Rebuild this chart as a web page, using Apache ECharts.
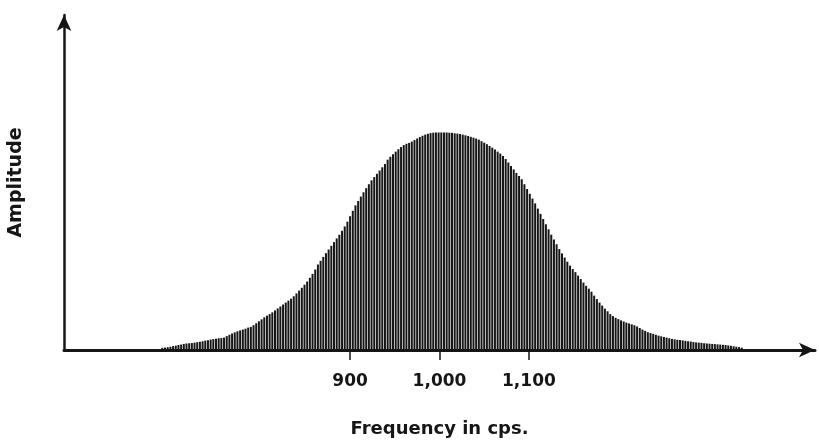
<!DOCTYPE html>
<html>
<head>
<meta charset="utf-8">
<script src="https://cdn.jsdelivr.net/npm/echarts@6/dist/echarts.min.js"></script>
<style>
  html, body { margin: 0; padding: 0; background: #fff; }
  #spectrum { width: 819px; height: 442px; }
</style>
</head>
<body>
<div id="spectrum"></div>
<script>
// spectral lines, one every 3 cps starting at 690 cps
var firstFreq = 690
var freqStep = 3

// amplitude of each line (peak = 100)
var amplitudes = [
    1.0, 1.1, 1.3, 1.5, 1.8, 2.0, 2.3, 2.5, 2.8, 3.0,
    3.1, 3.2, 3.4, 3.6, 3.8, 4.0, 4.3, 4.5, 4.8, 5.0,
    5.2, 5.4, 5.5, 5.7, 6.4, 7.0, 7.6, 8.1, 8.6, 9.0,
    9.4, 9.8, 10.3, 10.6, 11.4, 12.3, 13.2, 14.1, 15.0, 15.8,
    16.5, 17.3, 18.2, 19.1, 20.0, 20.9, 21.8, 22.7, 23.6, 24.7,
    26.0, 27.3, 28.6, 30.0, 31.5, 33.2, 35.0, 37.0, 39.3, 41.0,
    42.8, 44.5, 46.2, 47.9, 49.6, 51.3, 53.0, 54.8, 56.8, 59.0,
    61.5, 64.0, 66.5, 68.5, 70.5, 72.5, 74.4, 76.2, 78.0, 79.5,
    81.0, 82.5, 84.0, 85.5, 87.5, 88.8, 90.0, 91.2, 92.3, 93.3,
    94.2, 94.8, 95.2, 95.8, 96.5, 97.2, 97.9, 98.5, 99.0, 99.4,
    99.7, 99.9, 100, 100, 100, 100, 100, 99.9, 99.8, 99.6,
    99.5, 99.3, 99.0, 98.7, 98.4, 98.0, 97.6, 97.2, 96.7, 96.0,
    95.3, 94.6, 93.8, 93.0, 92.2, 91.2, 90.3, 89.2, 87.8, 86.2,
    84.6, 83.0, 81.4, 80.0, 78.5, 76.2, 74.0, 71.8, 69.6, 67.4,
    65.0, 62.6, 60.2, 57.8, 55.5, 53.0, 50.8, 48.6, 46.4, 44.4,
    42.5, 40.6, 38.8, 37.2, 35.8, 34.2, 32.6, 31.0, 29.5, 28.2,
    26.8, 25.0, 23.4, 21.8, 20.4, 19.0, 17.8, 16.5, 15.6, 14.8,
    14.2, 13.6, 13.1, 12.6, 12.2, 11.8, 11.4, 10.8, 10.1, 9.4,
    8.8, 8.2, 7.8, 7.4, 7.0, 6.6, 6.3, 6.0, 5.7, 5.4,
    5.1, 4.9, 4.7, 4.6, 4.4, 4.2, 4.0, 3.9, 3.7, 3.5,
    3.4, 3.3, 3.1, 3.0, 2.9, 2.8, 2.7, 2.6, 2.5, 2.4,
    2.3, 2.1, 1.9, 1.7, 1.5, 1.3, 1.1
]

// labelled frequencies on the axis
var tickFreqs = [900, 1000, 1100]

var ink = '#161616'

function buildLines () {
    var lines = []
    for (var i = 0; i < amplitudes.length; i++) {
        lines.push([firstFreq + i * freqStep, amplitudes[i]])
    }
    return lines
}

var chart = echarts.init(document.getElementById('spectrum'))
var option = {
    animation: false,
    backgroundColor: '#fff',
    grid: { left: 64, right: 4, top: 15, bottom: 92, outerBoundsMode: 'none', containLabel: false },
    xAxis: {
        type: 'value',
        min: 580,
        max: 1420,
        name: 'Frequency in cps.',
        nameLocation: 'middle',
        nameGap: 70,
        nameTextStyle: { color: ink, fontSize: 18, fontWeight: 'bold', fontFamily: 'DejaVu Sans' },
        axisLine: {
            show: true,
            symbol: ['none', 'arrow'],
            symbolSize: [11, 16],
            lineStyle: { color: ink, width: 3 }
        },
        axisTick: {
            show: true,
            customValues: tickFreqs,
            length: 10,
            lineStyle: { color: ink, width: 1.5 }
        },
        axisLabel: {
            customValues: tickFreqs,
            margin: 23,
            color: ink,
            fontSize: 17,
            fontWeight: 'bold',
            fontFamily: 'DejaVu Sans',
            formatter: function (v) { return v.toLocaleString('en-US') }
        },
        splitLine: { show: false }
    },
    yAxis: {
        type: 'value',
        min: 0,
        max: 154,
        name: 'Amplitude',
        nameLocation: 'middle',
        nameRotate: 90,
        nameGap: 38,
        nameTextStyle: { color: ink, fontSize: 19, fontWeight: 'bold', fontFamily: 'DejaVu Sans' },
        axisLine: {
            show: true,
            symbol: ['none', 'arrow'],
            symbolSize: [11, 16],
            lineStyle: { color: ink, width: 2.5 }
        },
        axisTick: { show: false },
        axisLabel: { show: false },
        splitLine: { show: false }
    },
    series: [{
        type: 'bar',
        barWidth: 2,
        itemStyle: { color: ink },
        data: buildLines()
    }]
}
chart.setOption(option)
</script>
</body>
</html>
